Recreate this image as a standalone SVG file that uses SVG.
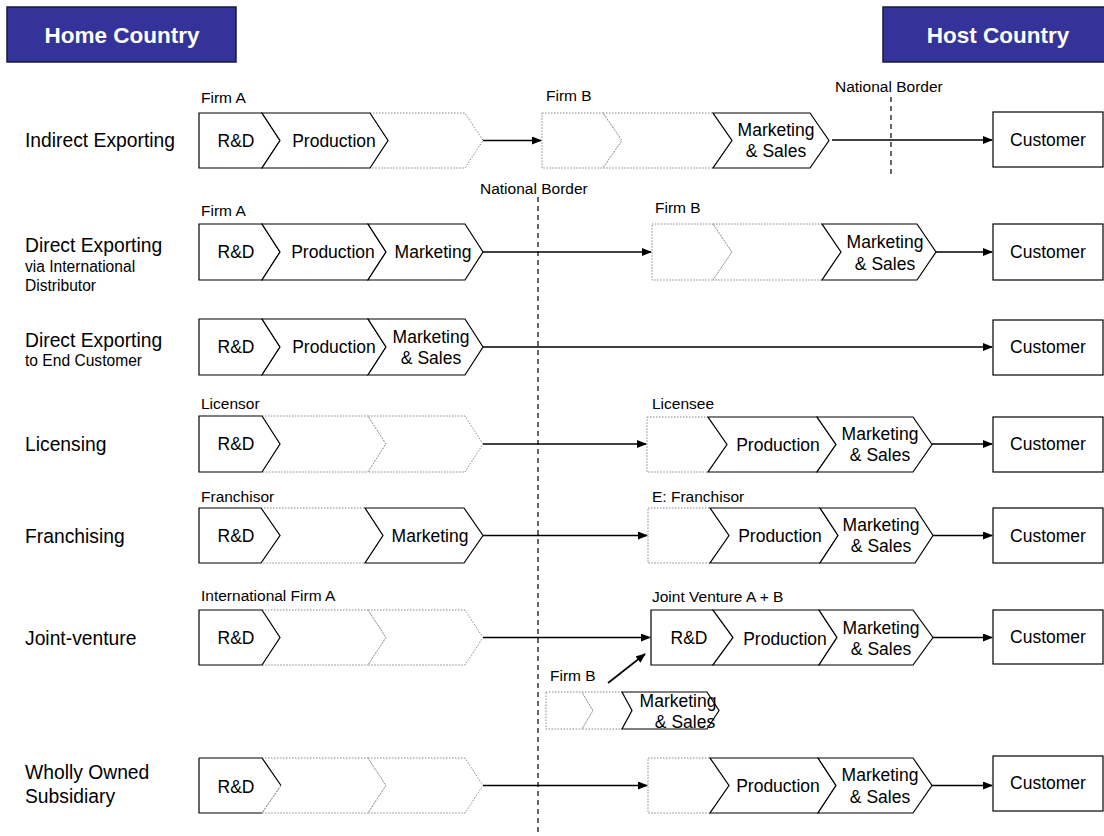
<svg xmlns="http://www.w3.org/2000/svg" width="1104" height="836" viewBox="0 0 1104 836">
  <defs>
    <marker id="arrow" markerWidth="10" markerHeight="8" refX="9" refY="4" orient="auto" markerUnits="userSpaceOnUse">
      <path d="M0,0 L10,4 L0,8 Z" fill="#000"/>
    </marker>
    <style>
      text { font-family: "Liberation Sans", Arial, sans-serif; fill: #000; }
      .hdr { fill: #333399; stroke: #1a1a40; stroke-width: 1.5; }
      .hdrtxt { fill: #fff; font-size: 22.5px; font-weight: bold; text-anchor: middle; }
      .row { font-size: 19.3px; }
      .sub { font-size: 15.6px; }
      .tag { font-size: 15.5px; }
      .lbl { font-size: 17.5px; text-anchor: middle; }
      .solid { fill: #fff; stroke: #000; stroke-width: 1.2; stroke-linejoin: miter; }
      .dot { fill: #fff; stroke: #888; stroke-width: 1; stroke-dasharray: 1.5 1.5; }
      .cust { fill: #fff; stroke: #000; stroke-width: 1.2; }
      .conn { stroke: #000; stroke-width: 1.6; fill: none; marker-end: url(#arrow); }
      .border { stroke: #000; stroke-width: 1.2; stroke-dasharray: 5 4; fill: none; }
    </style>
  </defs>

  <!-- country headers -->
  <g id="home-country">
    <rect class="hdr" x="7" y="7" width="229" height="55"/>
    <text class="hdrtxt" x="122" y="43">Home Country</text>
  </g>
  <g id="host-country">
    <rect class="hdr" x="883" y="7" width="225" height="55"/>
    <text class="hdrtxt" x="998" y="43">Host Country</text>
  </g>

  <!-- national borders -->
  <g id="borders">
    <line class="border" x1="891" y1="97" x2="891" y2="178"/>
    <text class="tag" x="835" y="92">National Border</text>
    <line class="border" x1="538" y1="197" x2="538" y2="836"/>
    <text class="tag" x="480" y="194">National Border</text>
  </g>

  <!-- row labels -->
  <g id="row-labels">
    <text class="row" x="25" y="147">Indirect Exporting</text>
    <text class="row" x="25" y="252">Direct Exporting</text>
    <text class="sub" x="25" y="272">via International</text>
    <text class="sub" x="25" y="291">Distributor</text>
    <text class="row" x="25" y="347">Direct Exporting</text>
    <text class="sub" x="25" y="366">to End Customer</text>
    <text class="row" x="25" y="451">Licensing</text>
    <text class="row" x="25" y="543">Franchising</text>
    <text class="row" x="25" y="645">Joint-venture</text>
    <text class="row" x="25" y="779">Wholly Owned</text>
    <text class="row" x="25" y="803">Subsidiary</text>
  </g>

  <!-- Row 1: Indirect Exporting -->
  <g id="indirect-firm-a">
    <text class="tag" x="201" y="103">Firm A</text>
    <path class="dot" d="M370,113 H465 L483,140.5 L465,168 H370 L388,140.5 Z"/>
    <path class="solid" d="M199,113 H262 L280,140.5 L262,168 H199 Z"/>
    <path class="solid" d="M262,113 H370 L388,140.5 L370,168 H262 L280,140.5 Z"/>
    <text class="lbl" x="236" y="147">R&amp;D</text>
    <text class="lbl" x="334" y="147">Production</text>
  </g>
  <g id="indirect-firm-b">
    <text class="tag" x="546" y="101">Firm B</text>
    <path class="dot" d="M542,113 H603 L622,140.5 L603,168 H542 Z"/>
    <path class="dot" d="M603,113 H713 L732,140.5 L713,168 H603 L622,140.5 Z"/>
    <path class="solid" d="M713,113 H810 L829,140.5 L810,168 H713 L732,140.5 Z"/>
    <text class="lbl" x="776" y="136">Marketing</text>
    <text class="lbl" x="776" y="157">&amp; Sales</text>
  </g>
  <g id="indirect-customer">
    <rect class="cust" x="993" y="112" width="110" height="55"/>
    <text class="lbl" x="1048" y="146">Customer</text>
  </g>

  <!-- Row 2: Direct Exporting via International Distributor -->
  <g id="distributor-firm-a">
    <text class="tag" x="201" y="216">Firm A</text>
    <path class="solid" d="M199,224 H262 L280,252 L262,280 H199 Z"/>
    <path class="solid" d="M262,224 H368 L386,252 L368,280 H262 L280,252 Z"/>
    <path class="solid" d="M368,224 H465 L483,252 L465,280 H368 L386,252 Z"/>
    <text class="lbl" x="236" y="258">R&amp;D</text>
    <text class="lbl" x="333" y="258">Production</text>
    <text class="lbl" x="433" y="258">Marketing</text>
  </g>
  <g id="distributor-firm-b">
    <text class="tag" x="655" y="213">Firm B</text>
    <path class="dot" d="M652,224 H713 L732,252 L713,280 H652 Z"/>
    <path class="dot" d="M713,224 H822 L841,252 L822,280 H713 L732,252 Z"/>
    <path class="solid" d="M822,224 H917 L936,252 L917,280 H822 L841,252 Z"/>
    <text class="lbl" x="885" y="248">Marketing</text>
    <text class="lbl" x="885" y="270">&amp; Sales</text>
  </g>
  <g id="distributor-customer">
    <rect class="cust" x="993" y="224" width="110" height="56"/>
    <text class="lbl" x="1048" y="258">Customer</text>
  </g>

  <!-- Row 3: Direct Exporting to End Customer -->
  <g id="end-firm">
    <path class="solid" d="M199,319 H262 L280,347 L262,375 H199 Z"/>
    <path class="solid" d="M262,319 H368 L386,347 L368,375 H262 L280,347 Z"/>
    <path class="solid" d="M368,319 H465 L483,347 L465,375 H368 L386,347 Z"/>
    <text class="lbl" x="236" y="353">R&amp;D</text>
    <text class="lbl" x="334" y="353">Production</text>
    <text class="lbl" x="431" y="343">Marketing</text>
    <text class="lbl" x="431" y="364">&amp; Sales</text>
  </g>
  <g id="end-customer">
    <rect class="cust" x="993" y="320" width="110" height="55"/>
    <text class="lbl" x="1048" y="353">Customer</text>
  </g>

  <!-- Row 4: Licensing -->
  <g id="licensor">
    <text class="tag" x="201" y="409">Licensor</text>
    <path class="dot" d="M262,416 H368 L386,444 L368,472 H262 L280,444 Z"/>
    <path class="dot" d="M368,416 H465 L483,444 L465,472 H368 L386,444 Z"/>
    <path class="solid" d="M199,416 H262 L280,444 L262,472 H199 Z"/>
    <text class="lbl" x="236" y="450">R&amp;D</text>
  </g>
  <g id="licensee">
    <text class="tag" x="652" y="409">Licensee</text>
    <path class="dot" d="M647,417 H708 L727,444.5 L708,472 H647 Z"/>
    <path class="solid" d="M708,417 H817 L836,444.5 L817,472 H708 L727,444.5 Z"/>
    <path class="solid" d="M817,417 H913 L932,444.5 L913,472 H817 L836,444.5 Z"/>
    <text class="lbl" x="778" y="451">Production</text>
    <text class="lbl" x="880" y="440">Marketing</text>
    <text class="lbl" x="880" y="461">&amp; Sales</text>
  </g>
  <g id="licensing-customer">
    <rect class="cust" x="993" y="417" width="110" height="55"/>
    <text class="lbl" x="1048" y="450">Customer</text>
  </g>

  <!-- Row 5: Franchising -->
  <g id="franchisor">
    <text class="tag" x="201" y="502">Franchisor</text>
    <path class="dot" d="M261,508 H365 L383,535.5 L365,563 H261 L280,535.5 Z"/>
    <path class="solid" d="M199,508 H261 L280,535.5 L261,563 H199 Z"/>
    <path class="solid" d="M365,508 H464 L483,535.5 L464,563 H365 L383,535.5 Z"/>
    <text class="lbl" x="236" y="542">R&amp;D</text>
    <text class="lbl" x="430" y="542">Marketing</text>
  </g>
  <g id="franchisee">
    <text class="tag" x="652" y="502">E: Franchisor</text>
    <path class="dot" d="M648,508 H710 L729,535.5 L710,563 H648 Z"/>
    <path class="solid" d="M710,508 H820 L838,535.5 L820,563 H710 L729,535.5 Z"/>
    <path class="solid" d="M820,508 H915 L933,535.5 L915,563 H820 L838,535.5 Z"/>
    <text class="lbl" x="780" y="542">Production</text>
    <text class="lbl" x="881" y="531">Marketing</text>
    <text class="lbl" x="881" y="552">&amp; Sales</text>
  </g>
  <g id="franchising-customer">
    <rect class="cust" x="993" y="508" width="110" height="55"/>
    <text class="lbl" x="1048" y="542">Customer</text>
  </g>

  <!-- Row 6: Joint-venture -->
  <g id="jv-firm-a">
    <text class="tag" x="201" y="601">International Firm A</text>
    <path class="dot" d="M262,610 H368 L386,637.5 L368,665 H262 L280,637.5 Z"/>
    <path class="dot" d="M368,610 H465 L483,637.5 L465,665 H368 L386,637.5 Z"/>
    <path class="solid" d="M199,610 H262 L280,637.5 L262,665 H199 Z"/>
    <text class="lbl" x="236" y="644">R&amp;D</text>
  </g>
  <g id="joint-venture">
    <text class="tag" x="652" y="602">Joint Venture A + B</text>
    <path class="solid" d="M651,610 H713 L733,637.5 L713,665 H651 Z"/>
    <path class="solid" d="M713,610 H819 L837,637.5 L819,665 H713 L733,637.5 Z"/>
    <path class="solid" d="M819,610 H913 L933,637.5 L913,665 H819 L837,637.5 Z"/>
    <text class="lbl" x="689" y="644">R&amp;D</text>
    <text class="lbl" x="785" y="645">Production</text>
    <text class="lbl" x="881" y="634">Marketing</text>
    <text class="lbl" x="881" y="655">&amp; Sales</text>
  </g>
  <g id="jv-firm-b">
    <text class="tag" x="550" y="681">Firm B</text>
    <path class="dot" d="M546,692 H582 L593,710.5 L582,729 H546 Z"/>
    <path class="dot" d="M582,692 H622 L632,710.5 L622,729 H582 L593,710.5 Z"/>
    <path class="solid" d="M622,692 H707 L719,710.5 L707,729 H622 L632,710.5 Z"/>
    <text class="lbl" x="678" y="707">Marketing</text>
    <text class="lbl" x="685" y="728">&amp; Sales</text>
  </g>
  <g id="jv-customer">
    <rect class="cust" x="993" y="610" width="110" height="54"/>
    <text class="lbl" x="1048" y="643">Customer</text>
  </g>

  <!-- Row 7: Wholly Owned Subsidiary -->
  <g id="parent-firm">
    <path class="dot" d="M262,758 H368 L386,785.5 L368,813 H262 L281,785.5 Z"/>
    <path class="dot" d="M368,758 H465 L483,785.5 L465,813 H368 L386,785.5 Z"/>
    <path class="solid" d="M199,758 H262 L281,785.5"/>
    <path class="solid" d="M281,785.5 L262,813" style="fill:none;stroke:#888;stroke-width:1;stroke-dasharray:1.5 1.5"/>
    <path class="solid" d="M199,758 V813 H262" style="fill:none"/>
    <text class="lbl" x="236" y="793">R&amp;D</text>
  </g>
  <g id="subsidiary">
    <path class="dot" d="M648,758 H710 L729,785.5 L710,813 H648 Z"/>
    <path class="solid" d="M710,758 H818 L836,785.5 L818,813 H710 L729,785.5 Z"/>
    <path class="solid" d="M818,758 H913 L932,785.5 L913,813 H818 L836,785.5 Z"/>
    <text class="lbl" x="778" y="792">Production</text>
    <text class="lbl" x="880" y="781">Marketing</text>
    <text class="lbl" x="880" y="803">&amp; Sales</text>
  </g>
  <g id="subsidiary-customer">
    <rect class="cust" x="993" y="756" width="110" height="55"/>
    <text class="lbl" x="1048" y="789">Customer</text>
  </g>

  <!-- connectors -->
  <g id="connectors">
    <line class="conn" x1="483" y1="140.5" x2="541" y2="140.5"/>
    <line class="conn" x1="832" y1="140" x2="992" y2="140"/>
    <line class="conn" x1="483" y1="252" x2="651" y2="252"/>
    <line class="conn" x1="936" y1="252" x2="992" y2="252"/>
    <line class="conn" x1="483" y1="347" x2="992" y2="347"/>
    <line class="conn" x1="483" y1="444" x2="646" y2="444"/>
    <line class="conn" x1="932" y1="444" x2="992" y2="444"/>
    <line class="conn" x1="483" y1="535.5" x2="647" y2="535.5"/>
    <line class="conn" x1="933" y1="535.5" x2="992" y2="535.5"/>
    <line class="conn" x1="483" y1="637.5" x2="650" y2="637.5"/>
    <line class="conn" x1="608" y1="683" x2="645" y2="654"/>
    <line class="conn" x1="933" y1="637.5" x2="992" y2="637.5"/>
    <line class="conn" x1="483" y1="785.5" x2="647" y2="785.5"/>
    <line class="conn" x1="932" y1="785.5" x2="992" y2="785.5"/>
  </g>
</svg>
